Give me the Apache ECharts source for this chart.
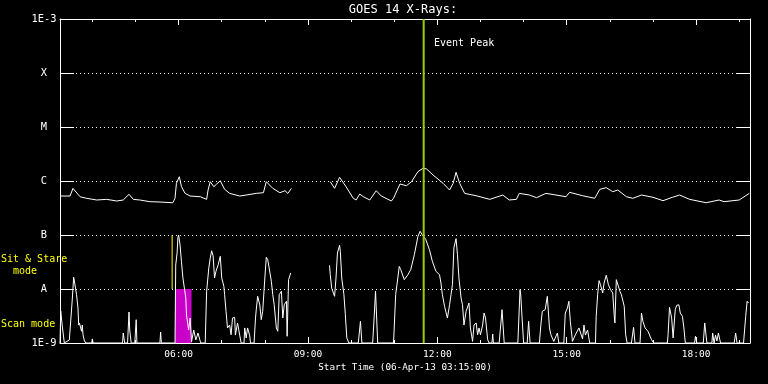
<!DOCTYPE html>
<html>
<head>
<meta charset="utf-8">
<script src="https://cdn.jsdelivr.net/npm/echarts@6/dist/echarts.min.js"></script>
<style>
html,body{margin:0;padding:0;background:#000;}
#chart{width:768px;height:384px;}
</style>
</head>
<body>
<div id="chart"></div>
<script>
// ---------- DATA ----------
const titleText = 'GOES 14 X-Rays:';
const xAxisTitle = 'Start Time (06-Apr-13 03:15:00)';
const timeRange = ['03:15', '19:15'];
const xMajorTickLabels = ['06:00', '09:00', '12:00', '15:00', '18:00'];
const xMinorTickLabels = ['04:00', '05:00', '07:00', '08:00', '10:00', '11:00', '13:00', '14:00', '16:00', '17:00', '19:00'];
const yTickValues = [1e-9, 1e-8, 1e-7, 1e-6, 1e-5, 1e-4, 1e-3];
const yTickLabels = ['1E-9', 'A', 'B', 'C', 'M', 'X', '1E-3'];
const eventPeakTime = '11:41';
const eventPeakLabel = 'Event Peak';
const sitStareSwitchTime = '05:51';
const sitStareSwitchRange = [1e-8, 1e-7];
const scanWindow = ['05:55', '06:18'];
const scanWindowTop = 1e-8;
const modeLabels = ['Sit & Stare', 'mode', 'Scan mode'];

// Long channel (1-8 A) flux, W/m^2
const longChannel = [
 ['03:15',5.27e-7],['03:29',5.27e-7],['03:33',7.3e-7],['03:43',5.1e-7],['03:52',4.78e-7],
 ['04:06',4.45e-7],['04:20',4.57e-7],['04:34',4.26e-7],['04:43',4.45e-7],['04:51',5.67e-7],
 ['04:57',4.57e-7],['05:06',4.45e-7],['05:20',4.14e-7],['05:34',4.08e-7],['05:52',3.96e-7],
 ['05:55',4.78e-7],['05:57',9.07e-7],['06:01',1.2e-6],['06:04',7.84e-7],['06:09',5.9e-7],
 ['06:16',5.27e-7],['06:30',5.12e-7],['06:39',4.57e-7],['06:41',6.81e-7],['06:44',9.7e-7],
 ['06:49',7.84e-7],['06:53',8.8e-7],['06:58',1.01e-6],['07:04',7.02e-7],['07:11',5.9e-7],
 ['07:25',5.27e-7],['07:34',5.5e-7],['07:48',5.9e-7],['07:58',6.07e-7],['08:02',9.7e-7],
 ['08:11',7.32e-7],['08:21',6.07e-7],['08:28',6.61e-7],['08:32',5.9e-7],['08:37',7.32e-7],
 ['09:00',null],
 ['09:31',9.7e-7],['09:37',7.32e-7],['09:44',1.17e-6],['09:53',7.84e-7],['10:03',4.78e-7],
 ['10:07',4.45e-7],['10:12',5.74e-7],['10:17',5.12e-7],['10:26',4.45e-7],['10:35',6.61e-7],
 ['10:42',5.27e-7],['10:56',4.26e-7],['10:59',4.78e-7],['11:08',8.8e-7],['11:17',8.18e-7],
 ['11:24',9.7e-7],['11:33',1.49e-6],['11:40',1.72e-6],['11:45',1.67e-6],['11:54',1.29e-6],
 ['12:08',9.07e-7],['12:17',6.81e-7],['12:22',9.07e-7],['12:26',1.45e-6],['12:31',9.07e-7],
 ['12:38',5.9e-7],['12:54',5.34e-7],['13:13',4.57e-7],['13:31',5.5e-7],['13:40',4.45e-7],
 ['13:50',4.57e-7],['13:54',5.9e-7],['14:08',5.5e-7],['14:18',4.91e-7],['14:31',5.9e-7],
 ['14:45',5.5e-7],['14:59',5.12e-7],['15:04',6.17e-7],['15:22',5.34e-7],['15:39',4.78e-7],
 ['15:46',7.02e-7],['15:55',7.52e-7],['16:04',6.34e-7],['16:11',6.81e-7],['16:23',5.12e-7],
 ['16:32',4.78e-7],['16:44',5.5e-7],['17:00',4.99e-7],['17:14',4.32e-7],['17:27',4.99e-7],
 ['17:37',5.5e-7],['17:51',4.57e-7],['18:14',3.96e-7],['18:32',4.45e-7],['18:39',4.14e-7],
 ['19:00',4.45e-7],['19:14',5.9e-7]
];

// Short channel (0.5-4 A) flux, W/m^2
const shortChannel = [
 ['03:15',1e-9],['03:16',3.9e-9],['03:18',2.15e-9],['03:19',2.15e-9],['03:21',1e-9],
 ['03:28',1.14e-9],['03:30',2.67e-9],['03:32',6.25e-9],['03:34',1.65e-8],['03:35',1.41e-8],
 ['03:38',7.86e-9],['03:40',4.45e-9],['03:41',2.15e-9],['03:42',2.35e-9],['03:45',1.65e-9],
 ['03:46',2.15e-9],['03:47',1.42e-9],['03:49',1.09e-9],['03:51',1e-9],['03:59',1e-9],
 ['04:00',1.19e-9],['04:01',1e-9],['04:42',1e-9],['04:43',1.53e-9],['04:45',1e-9],
 ['04:49',1e-9],['04:51',3.75e-9],['04:52',1.74e-9],['04:54',1e-9],['04:59',1e-9],
 ['05:01',2.7e-9],['05:02',1e-9],['05:34',1e-9],['05:35',1.6e-9],['05:36',1e-9],
 ['05:55',1e-9],['05:56',2.78e-8],['05:58',4.8e-8],['05:59',9e-8],['06:00',1e-7],
 ['06:02',6.54e-8],['06:04',3.2e-8],['06:06',1.6e-8],['06:10',6.81e-9],['06:11',3.3e-9],
 ['06:14',1.74e-9],['06:16',2.9e-9],['06:18',1.05e-9],['06:21',1.74e-9],['06:24',1.14e-9],
 ['06:27',1.53e-9],['06:30',1.09e-9],['06:31',1e-9],['06:37',1e-9],['06:39',9.07e-9],
 ['06:42',2.45e-8],['06:44',3.75e-8],['06:46',5.1e-8],['06:48',4.1e-8],['06:50',1.6e-8],
 ['06:52',2.13e-8],['06:55',2.8e-8],['06:58',4.03e-8],['07:00',1.6e-8],['07:03',1.12e-8],
 ['07:04',7.86e-9],['07:06',3.86e-9],['07:08',1.9e-9],['07:11',2.15e-9],['07:13',1.42e-9],
 ['07:15',2.9e-9],['07:18',2.99e-9],['07:19',1.4e-9],['07:22',2.35e-9],['07:25',1.4e-9],
 ['07:27',1e-9],['07:31',1e-9],['07:32',1.9e-9],['07:34',1.24e-9],['07:36',1.9e-9],
 ['07:39',1.35e-9],['07:40',1e-9],['07:45',1e-9],['07:47',2.9e-9],['07:48',4.08e-9],
 ['07:50',7.33e-9],['07:53',5.05e-9],['07:55',2.7e-9],['07:57',3.86e-9],['08:00',1.6e-8],
 ['08:02',3.87e-8],['08:04',3.48e-8],['08:06',2.45e-8],['08:09',1.39e-8],['08:11',7.86e-9],
 ['08:13',5.1e-9],['08:16',1.9e-9],['08:18',1.65e-9],['08:20',7.86e-9],['08:23',9.07e-9],
 ['08:25',2.9e-9],['08:27',5.1e-9],['08:30',5.92e-9],['08:31',1.33e-9],['08:33',1.49e-8],
 ['08:36',1.98e-8],
 ['09:00',null],
 ['09:30',2.74e-8],['09:31',1.84e-8],['09:33',1.04e-8],['09:37',7.33e-9],['09:39',1.6e-8],
 ['09:41',4.64e-8],['09:44',6.45e-8],['09:45',4.97e-8],['09:47',1.6e-8],['09:50',7.86e-9],
 ['09:52',3.34e-9],['09:54',1.24e-9],['09:57',1e-9],['10:10',1e-9],['10:13',2.52e-9],
 ['10:15',1e-9],['10:30',1e-9],['10:32',2.9e-9],['10:34',9.07e-9],['10:36',9.7e-9],
 ['10:37',1e-9],['10:59',1e-9],['11:00',1.9e-9],['11:02',7.86e-9],['11:05',1.6e-8],
 ['11:07',2.62e-8],['11:09',2.29e-8],['11:14',1.49e-8],['11:16',1.6e-8],['11:19',1.84e-8],
 ['11:21',1.98e-8],['11:23',2.29e-8],['11:28',4.32e-8],['11:33',9.45e-8],['11:36',1.17e-7],
 ['11:39',1.01e-7],['11:44',8.19e-8],['11:49',5.33e-8],['11:53',3.27e-8],['11:58',2.13e-8],
 ['12:03',1.84e-8],['12:05',1.29e-8],['12:07',7.86e-9],['12:10',4.78e-9],['12:14',2.9e-9],
 ['12:17',5.1e-9],['12:19',7.86e-9],['12:21',1.2e-8],['12:23',5.75e-8],['12:26',8.55e-8],
 ['12:28',4.32e-8],['12:30',1.6e-8],['12:33',6.81e-9],['12:35',5.1e-9],['12:37',2.15e-9],
 ['12:40',3.86e-9],['12:42',4.14e-9],['12:44',5.5e-9],['12:46',1.9e-9],['12:49',1.07e-9],
 ['12:51',2.15e-9],['12:54',2.35e-9],['12:56',1.42e-9],['12:58',1.9e-9],['13:00',1.42e-9],
 ['13:03',2.15e-9],['13:05',3.59e-9],['13:07',2.9e-9],['13:10',1.15e-9],['13:12',1e-9],
 ['13:16',1e-9],['13:17',1.47e-9],['13:18',1e-9],['13:26',1e-9],['13:30',4.14e-9],
 ['13:33',1e-9],['13:52',1e-9],['13:55',9.7e-9],['13:56',7.74e-9],['14:00',1e-9],
 ['14:05',1e-9],['14:07',2.52e-9],['14:09',1e-9],['14:22',1e-9],['14:24',2.15e-9],
 ['14:26',3.86e-9],['14:30',4.14e-9],['14:33',7.33e-9],['14:36',1.9e-9],['14:38',1.42e-9],
 ['14:42',1.07e-9],['14:47',1.53e-9],['14:49',1e-9],['14:56',1e-9],['14:58',3.59e-9],
 ['15:01',4.45e-9],['15:03',5.92e-9],['15:05',2.52e-9],['15:08',1.07e-9],['15:12',1.42e-9],
 ['15:17',1.9e-9],['15:22',1.19e-9],['15:24',2.15e-9],['15:26',1.4e-9],['15:29',1.74e-9],
 ['15:32',1e-9],['15:40',1e-9],['15:41',3.12e-9],['15:43',7.86e-9],['15:45',1.43e-8],
 ['15:47',1.2e-8],['15:50',8.43e-9],['15:52',1.29e-8],['15:55',1.8e-8],['15:58',1.2e-8],
 ['16:01',9.7e-9],['16:04',8.43e-9],['16:06',3.34e-9],['16:07',2.35e-9],['16:09',1.49e-8],
 ['16:11',1.39e-8],['16:14',9.07e-9],['16:16',7.86e-9],['16:20',4.78e-9],['16:22',1.42e-9],
 ['16:24',1e-9],['16:30',1e-9],['16:33',1.95e-9],['16:35',1e-9],['16:42',1e-9],
 ['16:44',3.59e-9],['16:46',2.52e-9],['16:49',1.9e-9],['16:51',2.04e-9],['16:53',1.65e-9],
 ['16:55',1.53e-9],['16:58',1.15e-9],['17:01',1e-9],['17:20',1e-9],['17:21',1.42e-9],
 ['17:23',4.58e-9],['17:26',2.9e-9],['17:28',1.24e-9],['17:31',4.14e-9],['17:33',4.99e-9],
 ['17:36',5.1e-9],['17:38',3.59e-9],['17:41',3.12e-9],['17:43',1.9e-9],['17:45',1e-9],
 ['17:58',1e-9],['17:59',1.33e-9],['18:01',1e-9],['18:10',1e-9],['18:12',2.35e-9],
 ['18:15',1e-9],['18:22',1e-9],['18:23',1.53e-9],['18:25',1e-9],['18:27',1.4e-9],
 ['18:29',1.09e-9],['18:31',1.53e-9],['18:34',1e-9],['18:53',1e-9],['18:55',1.53e-9],
 ['18:57',1e-9],['19:06',1e-9],['19:09',3.12e-9],['19:11',5.92e-9],['19:13',5.5e-9]
];

// ---------- CHART ----------
const toHours = s => { const p = s.split(':').map(Number); return p[0] + p[1] / 60; };
const MONO = '"DejaVu Sans Mono", monospace';
const xMin = toHours(timeRange[0]), xMax = toHours(timeRange[1]);
const majorX = xMajorTickLabels.map(toHours);
const minorX = xMinorTickLabels.map(toHours);
const fmtHour = v => { const h = Math.floor(v + 1e-6), m = Math.round((v - h) * 60); return String(h).padStart(2,'0') + ':' + String(m).padStart(2,'0'); };
const yLabelFor = v => { const e = Math.round(Math.log10(v)); const i = yTickValues.findIndex(t => Math.round(Math.log10(t)) === e); return i >= 0 ? yTickLabels[i] : ''; };

const white = '#ffffff';
function xAxisDef(pos, ticks, len, showLine, showLabel) {
  return {
    type: 'value', min: xMin, max: xMax, position: pos, gridIndex: 0,
    axisLine: { show: showLine, onZero: false, lineStyle: { color: white, width: 1 } },
    axisTick: { show: true, inside: true, length: len, customValues: ticks, lineStyle: { color: white, width: 1 } },
    axisLabel: { show: showLabel, customValues: ticks, formatter: fmtHour, color: white, fontFamily: MONO, fontSize: 9.5, margin: 7 },
    splitLine: { show: false }
  };
}

const chart = echarts.init(document.getElementById('chart'), null, { renderer: 'canvas' });
const option = {
  backgroundColor: '#000000',
  animation: false,
  grid: { left: 60, right: 18, top: 19, bottom: 41, containLabel: false },
  xAxis: [
    xAxisDef('bottom', majorX, 6, true, true),
    xAxisDef('bottom', minorX, 3, false, false),
    xAxisDef('top', majorX, 6, true, false),
    xAxisDef('top', minorX, 3, false, false)
  ],
  yAxis: [
    {
      type: 'log', logBase: 10, min: yTickValues[0], max: yTickValues[yTickValues.length - 1], splitNumber: 6, position: 'left',
      axisLine: { show: true, lineStyle: { color: white, width: 1 } },
      axisTick: { show: true, inside: true, length: 14, lineStyle: { color: white, width: 1 } },
      axisLabel: { show: true, formatter: yLabelFor, color: white, fontFamily: MONO, fontSize: 10.4, align: 'center', margin: 16 },
      splitLine: { show: true, lineStyle: { color: white, width: 1, type: [1, 3] } },
      minorTick: { show: false }
    },
    {
      type: 'log', logBase: 10, min: yTickValues[0], max: yTickValues[yTickValues.length - 1], splitNumber: 6, position: 'right',
      axisLine: { show: true, lineStyle: { color: white, width: 1 } },
      axisTick: { show: true, inside: true, length: 14, lineStyle: { color: white, width: 1 } },
      axisLabel: { show: false },
      splitLine: { show: false }
    }
  ],
  series: [
    {
      name: 'scan', type: 'line', xAxisIndex: 0, yAxisIndex: 0, z: 1,
      data: scanWindow.map(t => [toHours(t), scanWindowTop]),
      showSymbol: false, symbol: 'none',
      lineStyle: { width: 0, color: '#c800c8' },
      areaStyle: { color: '#c800c8', opacity: 1, origin: 'start' }
    },
    {
      name: 'long', type: 'line', xAxisIndex: 0, yAxisIndex: 0, z: 3,
      data: longChannel.map(d => [toHours(d[0]), d[1]]),
      showSymbol: false, symbol: 'none', connectNulls: false,
      lineStyle: { color: white, width: 1 }
    },
    {
      name: 'short', type: 'line', xAxisIndex: 0, yAxisIndex: 0, z: 3,
      data: shortChannel.map(d => [toHours(d[0]), d[1]]),
      showSymbol: false, symbol: 'none', connectNulls: false,
      lineStyle: { color: white, width: 1 }
    },
    {
      name: 'sitstare', type: 'line', xAxisIndex: 0, yAxisIndex: 0, z: 4,
      data: sitStareSwitchRange.map(v => [toHours(sitStareSwitchTime), v]),
      showSymbol: false, symbol: 'none',
      lineStyle: { color: '#ffff00', width: 1 }
    },
    {
      name: 'peak', type: 'line', xAxisIndex: 0, yAxisIndex: 0, z: 5,
      data: [yTickValues[0], yTickValues[yTickValues.length - 1]].map(v => [toHours(eventPeakTime), v]),
      showSymbol: false, symbol: 'none',
      lineStyle: { color: '#99cc00', width: 2 }
    }
  ],
  graphic: [
    { type: 'text', x: 403, y: 10, style: { text: titleText, fill: white, fontFamily: MONO, fontSize: 12, align: 'center', verticalAlign: 'middle' } },
    { type: 'text', x: 405, y: 368, style: { text: xAxisTitle, fill: white, fontFamily: MONO, fontSize: 9.3, align: 'center', verticalAlign: 'middle' } },
    { type: 'text', x: 434, y: 43, style: { text: eventPeakLabel, fill: white, fontFamily: MONO, fontSize: 10, align: 'left', verticalAlign: 'middle' } },
    { type: 'text', x: 1, y: 259, style: { text: modeLabels[0], fill: '#ffff00', fontFamily: MONO, fontSize: 10, align: 'left', verticalAlign: 'middle' } },
    { type: 'text', x: 13, y: 271, style: { text: modeLabels[1], fill: '#ffff00', fontFamily: MONO, fontSize: 10, align: 'left', verticalAlign: 'middle' } },
    { type: 'text', x: 1, y: 324, style: { text: modeLabels[2], fill: '#ffff00', fontFamily: MONO, fontSize: 10, align: 'left', verticalAlign: 'middle' } }
  ]
};
chart.setOption(option);
</script>
</body>
</html>
